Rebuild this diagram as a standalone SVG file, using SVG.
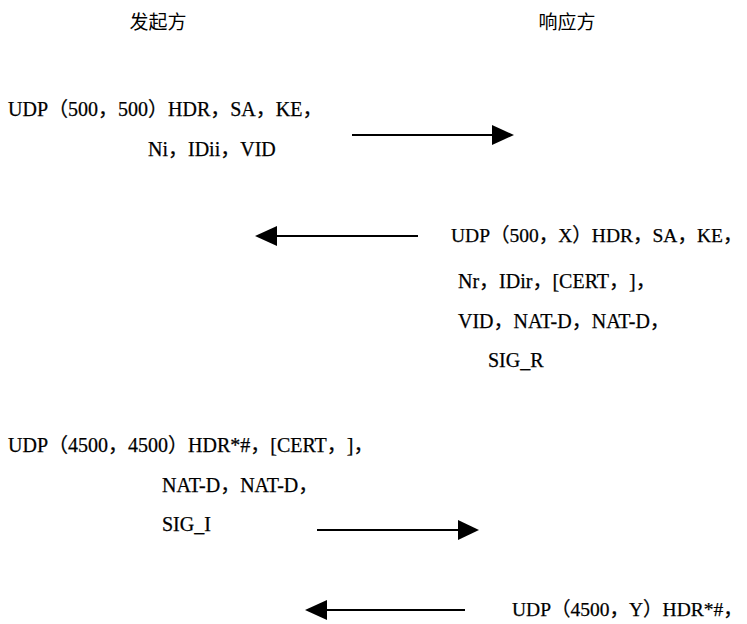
<svg xmlns="http://www.w3.org/2000/svg" width="747" height="624" viewBox="0 0 747 624">
<defs>
<style>
.t{font-family:"Liberation Serif","Noto Sans CJK SC",serif;font-size:20px;fill:#000;stroke:#000;stroke-width:0.25;text-spacing-trim:space-all}
.r{font-size:19.5px}
.h{font-family:"Noto Sans CJK SC",serif;font-size:19px;fill:#000;text-anchor:middle}
.ln{stroke:#000;stroke-width:2;fill:none}
</style>
</defs>
<rect width="747" height="624" fill="#fff"/>
<g id="initiator"><text class="h" x="158" y="29">发起方</text></g>
<g id="responder"><text class="h" x="567" y="29">响应方</text></g>
<g id="msg1">
<text class="t" x="8" y="116">UDP（500，500）HDR，SA，KE，</text>
<text class="t" x="148" y="156">Ni，IDii，VID</text>
</g>
<g id="msg2">
<text class="t r" x="451" y="242">UDP（500，X）HDR，SA，KE，</text>
<text class="t" x="458" y="288">Nr，IDir，[CERT，]，</text>
<text class="t" x="458" y="328">VID，NAT-D，NAT-D，</text>
<text class="t" x="488" y="367">SIG_R</text>
</g>
<g id="msg3">
<text class="t" x="8" y="452">UDP（4500，4500）HDR*#，[CERT，]，</text>
<text class="t" x="162" y="492">NAT-D，NAT-D，</text>
<text class="t" x="162" y="531">SIG_I</text>
</g>
<g id="msg4">
<text class="t r" x="512" y="616">UDP（4500，Y）HDR*#，</text>
</g>
<g id="connectors">
<line class="ln" x1="352" y1="135" x2="494" y2="135"/>
<polygon points="492,125 514,135 492,145"/>
<line class="ln" x1="418" y1="236" x2="275" y2="236"/>
<polygon points="277,226 255,236 277,246"/>
<line class="ln" x1="317" y1="530" x2="460" y2="530"/>
<polygon points="458,520 479,530 458,540"/>
<line class="ln" x1="465" y1="610" x2="325" y2="610"/>
<polygon points="327,600 305,610 327,620"/>
</g>
</svg>
